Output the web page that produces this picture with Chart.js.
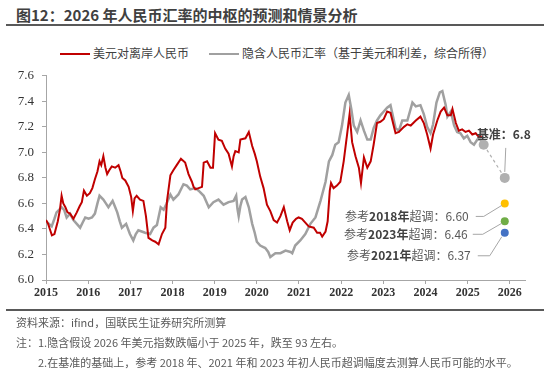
<!DOCTYPE html>
<html>
<head>
<meta charset="utf-8">
<script src="https://cdn.jsdelivr.net/npm/chart.js@4.4.1/dist/chart.umd.min.js"></script>
<style>
body{margin:0;width:550px;height:374px;position:relative;background:#fff;overflow:hidden;font-family:"Noto Sans CJK SC",sans-serif}
#title{position:absolute;left:16px;top:5px;font-size:15px;font-weight:bold;color:#404040;white-space:nowrap;line-height:20px}
.rule{position:absolute;left:6px;width:538px;height:2px;background:#595959}
.leg{position:absolute;top:45px;font-size:12px;color:#404040;white-space:nowrap;line-height:16px}
.sw{display:inline-block;width:30px;height:2px;vertical-align:middle;margin-right:3px;position:relative;top:-1px}
.note{position:absolute;font-size:11px;color:#595959;white-space:nowrap;line-height:14px}
#wrap{position:absolute;left:0;top:60px;width:550px;height:250px}
</style>
</head>
<body>
<div id="title">图12：2026 年人民币汇率的中枢的预测和情景分析</div>
<div class="rule" style="top:24px"></div>
<div class="leg" style="left:60px"><span class="sw" style="background:#c00000"></span>美元对离岸人民币</div>
<div class="leg" style="left:209px"><span class="sw" style="background:#a0a0a0"></span>隐含人民币汇率（基于美元和利差，综合所得）</div>
<div id="wrap"><canvas id="chart-line"></canvas></div>
<div class="rule" style="top:309px"></div>
<div class="note" style="left:16px;top:315px">资料来源：ifind，国联民生证券研究所测算</div>
<div class="note" style="left:16px;top:335px">注：1.隐含假设 2026 年美元指数跌幅小于 2025 年，跌至 93 左右。</div>
<div class="note" style="left:38px;top:355px">2.在基准的基础上，参考 2018 年、2021 年和 2023 年初人民币超调幅度去测算人民币可能的水平。</div>
<script>
// 美元对离岸人民币
var cnhYears = [2015.00,2015.05,2015.10,2015.14,2015.20,2015.28,2015.33,2015.37,2015.41,2015.46,2015.51,2015.57,2015.65,2015.73,2015.80,2015.85,2015.90,2015.97,
  2016.04,2016.10,2016.16,2016.22,2016.27,2016.31,2016.36,2016.41,2016.45,2016.50,2016.56,2016.64,2016.72,2016.77,2016.81,2016.88,2016.96,
  2017.02,2017.06,2017.10,2017.15,2017.23,2017.31,2017.37,2017.43,2017.52,2017.59,2017.67,2017.75,2017.83,2017.87,2017.95,
  2018.02,2018.10,2018.20,2018.30,2018.38,2018.46,2018.50,2018.54,2018.62,2018.70,2018.74,2018.82,2018.90,2018.96,
  2019.01,2019.09,2019.17,2019.25,2019.33,2019.41,2019.45,2019.49,2019.57,2019.61,2019.73,2019.81,2019.89,2019.95,
  2020.00,2020.08,2020.16,2020.24,2020.32,2020.40,2020.48,2020.56,2020.64,2020.72,2020.78,2020.85,2020.93,2020.99,
  2021.07,2021.15,2021.23,2021.35,2021.43,2021.50,2021.55,2021.63,2021.68,2021.73,2021.76,2021.82,2021.90,2021.98,
  2022.06,2022.14,2022.20,2022.26,2022.34,2022.42,2022.47,2022.54,2022.62,2022.70,2022.77,2022.85,2022.93,
  2023.01,2023.09,2023.17,2023.29,2023.37,2023.49,2023.57,2023.65,2023.77,2023.88,2023.96,
  2024.04,2024.12,2024.18,2024.28,2024.36,2024.44,2024.52,2024.60,2024.64,2024.72,2024.79,2024.87,2024.95,
  2025.03,2025.11,2025.19,2025.27,2025.33];
var cnh = [6.47,6.44,6.39,6.35,6.36,6.46,6.55,6.66,6.60,6.57,6.53,6.52,6.48,6.53,6.58,6.61,6.70,6.66,
  6.68,6.72,6.79,6.85,6.93,6.90,6.97,6.88,6.83,6.86,6.89,6.88,6.90,6.85,6.80,6.78,6.73,
  6.65,6.54,6.64,6.66,6.63,6.62,6.50,6.33,6.31,6.30,6.28,6.36,6.41,6.62,6.82,
  6.86,6.90,6.95,6.92,6.83,6.77,6.73,6.71,6.72,6.73,6.92,6.93,6.88,6.88,
  7.15,7.10,7.09,7.03,6.99,6.89,6.97,7.01,7.00,7.10,7.11,7.16,7.05,6.99,
  6.93,6.81,6.72,6.59,6.54,6.47,6.45,6.50,6.57,6.46,6.39,6.45,6.48,6.49,
  6.48,6.45,6.42,6.41,6.37,6.37,6.34,6.38,6.46,6.70,6.76,6.72,6.74,6.77,
  6.93,7.14,7.30,7.08,6.97,6.88,6.76,6.96,6.88,6.93,7.06,7.23,7.24,
  7.26,7.32,7.31,7.15,7.16,7.20,7.22,7.21,7.25,7.28,7.23,
  7.14,7.03,7.14,7.25,7.32,7.35,7.29,7.29,7.34,7.23,7.17,7.18,7.16,
  7.17,7.14,7.15,7.12,7.13];

// 隐含人民币汇率
var impliedYears = [2015.00,2015.07,2015.135,2015.20,2015.25,2015.37,2015.43,2015.49,2015.57,2015.65,2015.73,2015.81,2015.87,2015.93,
  2016.01,2016.09,2016.16,2016.22,2016.27,2016.36,2016.42,2016.48,2016.58,2016.63,2016.69,2016.75,2016.80,2016.90,2016.99,
  2017.07,2017.13,2017.19,2017.27,2017.35,2017.47,2017.55,2017.63,2017.72,2017.79,2017.86,2017.95,
  2018.02,2018.14,2018.26,2018.34,2018.42,2018.54,2018.62,2018.74,2018.86,2018.97,
  2019.09,2019.21,2019.33,2019.45,2019.51,2019.54,2019.57,2019.61,2019.65,2019.73,2019.81,2019.89,2019.95,
  2020.00,2020.08,2020.20,2020.27,2020.32,2020.44,2020.56,2020.68,2020.80,2020.84,2020.91,
  2021.03,2021.15,2021.27,2021.39,2021.51,2021.63,2021.71,2021.79,2021.86,2021.94,
  2022.02,2022.10,2022.18,2022.24,2022.30,2022.38,2022.46,2022.54,2022.62,2022.70,2022.77,2022.85,2022.93,
  2023.01,2023.09,2023.17,2023.29,2023.37,2023.45,2023.57,2023.69,2023.77,2023.88,2023.96,
  2024.04,2024.12,2024.18,2024.26,2024.34,2024.40,2024.48,2024.52,2024.60,2024.68,2024.75,2024.83,2024.91,2024.99,
  2025.07,2025.15,2025.23,2025.31,2025.38];
var implied = [6.46,6.44,6.42,6.48,6.53,6.57,6.55,6.49,6.52,6.47,6.44,6.41,6.45,6.49,
  6.48,6.49,6.52,6.60,6.66,6.63,6.60,6.57,6.62,6.58,6.53,6.46,6.41,6.44,6.36,
  6.31,6.36,6.39,6.38,6.37,6.36,6.41,6.43,6.57,6.55,6.60,6.67,
  6.63,6.67,6.75,6.74,6.71,6.72,6.70,6.66,6.57,6.61,
  6.63,6.59,6.61,6.62,6.66,6.56,6.50,6.58,6.63,6.65,6.57,6.44,6.37,
  6.30,6.27,6.25,6.22,6.18,6.21,6.21,6.23,6.22,6.21,6.27,
  6.31,6.36,6.44,6.49,6.62,6.77,6.93,6.98,7.06,7.08,
  7.21,7.39,7.45,7.34,7.21,7.16,7.25,7.17,7.10,7.10,7.19,7.25,7.29,
  7.32,7.35,7.37,7.19,7.17,7.25,7.25,7.39,7.36,7.37,7.30,
  7.20,7.15,7.22,7.39,7.47,7.48,7.37,7.28,7.32,7.21,7.16,7.15,7.11,7.13,
  7.08,7.06,7.10,7.10,7.06];

// 基准预测与情景
var forecastYears = [2025.38, 2025.88];
var forecast = [7.06, 6.80];
var scenarioYear = 2025.88;
var scenarioNames = ['2018', '2023', '2021'];
var scenarioValues = [6.60, 6.46, 6.37];
var scenarioColors = ['#ffc000', '#70ad47', '#4472c4'];

var tickYears = [2015,2016,2017,2018,2019,2020,2021,2022,2023,2024,2025,2026];

function pts(xs, ys) {
  return xs.map(function(x, i) { return {x: x, y: ys[i]}; });
}

function drawParts(ctx, right, y, parts) {
  var total = 0;
  parts.forEach(function(p) {
    ctx.font = (p[1] ? 'bold ' : '') + '12px "Noto Sans CJK SC", sans-serif';
    total += ctx.measureText(p[0]).width;
  });
  var x = right - total;
  parts.forEach(function(p) {
    ctx.font = (p[1] ? 'bold ' : '') + '12px "Noto Sans CJK SC", sans-serif';
    ctx.fillStyle = p[1] ? '#404040' : '#595959';
    ctx.fillText(p[0], x, y);
    x += ctx.measureText(p[0]).width;
  });
}

// 标注：基准和超调情景
var labelOffsets = [
  {tx: -36, ty: 13, a: -29, b: -21, ey: 2},
  {tx: -37, ty: 13, a: -32, b: -22, ey: 2},
  {tx: -34, ty: 23, a: -27, b: -15, ey: 4}
];
var labelPlugin = {
  id: 'scenarioLabels',
  afterDatasetsDraw: function(chart) {
    var ctx = chart.ctx, xs = chart.scales.x, ys = chart.scales.y;
    ctx.save();
    ctx.textBaseline = 'middle';
    ctx.strokeStyle = '#a6a6a6';
    ctx.lineWidth = 1;
    var bx = xs.getPixelForValue(forecastYears[1]), by = ys.getPixelForValue(forecast[1]);
    ctx.beginPath();
    ctx.moveTo(bx + 1, by - 30);
    ctx.lineTo(bx, by - 6);
    ctx.stroke();
    ctx.textAlign = 'left';
    drawParts(ctx, bx + 26, by - 43, [['基准：', true], ['6.8', true]]);

    var px = xs.getPixelForValue(scenarioYear);
    scenarioValues.forEach(function(v, i) {
      var py = ys.getPixelForValue(v), o = labelOffsets[i];
      ctx.beginPath();
      ctx.moveTo(px + o.a, py + o.ty);
      ctx.lineTo(px + o.b, py + o.ty);
      ctx.lineTo(px - 3, py + o.ey);
      ctx.stroke();
      drawParts(ctx, px + o.tx, py + o.ty,
        [['参考', false], [scenarioNames[i] + '年', true], ['超调：', false], [v.toFixed(2), false]]);
    });
    ctx.restore();
  }
};

const ctx = document.getElementById('chart-line').getContext('2d');
const myChart = new Chart(ctx, {
  type: 'line',
  data: {
    datasets: [{
      label: '隐含人民币汇率',
      data: pts(impliedYears, implied),
      borderColor: '#a0a0a0',
      borderWidth: 2.5,
      pointRadius: 0,
      order: 3
    },
    {
      label: '美元对离岸人民币',
      data: pts(cnhYears, cnh),
      borderColor: '#c00000',
      borderWidth: 2,
      pointRadius: 0,
      order: 2
    },
    {
      label: '基准',
      data: pts(forecastYears, forecast),
      borderColor: '#b0b0b0',
      borderWidth: 1.2,
      borderDash: [3, 3],
      pointRadius: 5,
      pointBackgroundColor: '#b0b0b0',
      pointBorderWidth: 0,
      order: 1
    },
    {
      label: '情景',
      type: 'scatter',
      data: scenarioValues.map(function(v) { return {x: scenarioYear, y: v}; }),
      pointRadius: 4,
      pointBackgroundColor: scenarioColors,
      pointBorderWidth: 0,
      order: 0
    }]
  },
  options: {
    responsive: true,
    maintainAspectRatio: false,
    animation: false,
    elements: { line: { tension: 0 } },
    layout: { padding: { top: 13.5, right: 25, left: 0, bottom: 0 } },
    plugins: { legend: { display: false }, tooltip: { enabled: false } },
    scales: {
      x: {
        type: 'linear',
        min: 2015,
        max: 2026.36,
        afterBuildTicks: function(s) { s.ticks = tickYears.map(function(v) { return {value: v}; }); },
        afterFit: function(s) { s.height = 30; },
        grid: { drawOnChartArea: false, tickLength: 4, color: '#a6a6a6' },
        border: { color: '#a6a6a6' },
        ticks: {
          color: '#333',
          padding: 2,
          maxRotation: 0,
          font: { family: 'Liberation Serif', size: 12, weight: 'bold' },
          callback: function(v) { return String(v); }
        }
      },
      y: {
        min: 6.0,
        max: 7.6,
        afterFit: function(s) { s.width = 46; },
        grid: { drawOnChartArea: false, tickLength: 4, color: '#a6a6a6' },
        border: { color: '#a6a6a6' },
        ticks: {
          stepSize: 0.2,
          color: '#333',
          padding: 8,
          font: { family: 'Liberation Serif', size: 13 },
          callback: function(v) { return v.toFixed(1); }
        }
      }
    }
  },
  plugins: [labelPlugin]
});
</script>
</body>
</html>
